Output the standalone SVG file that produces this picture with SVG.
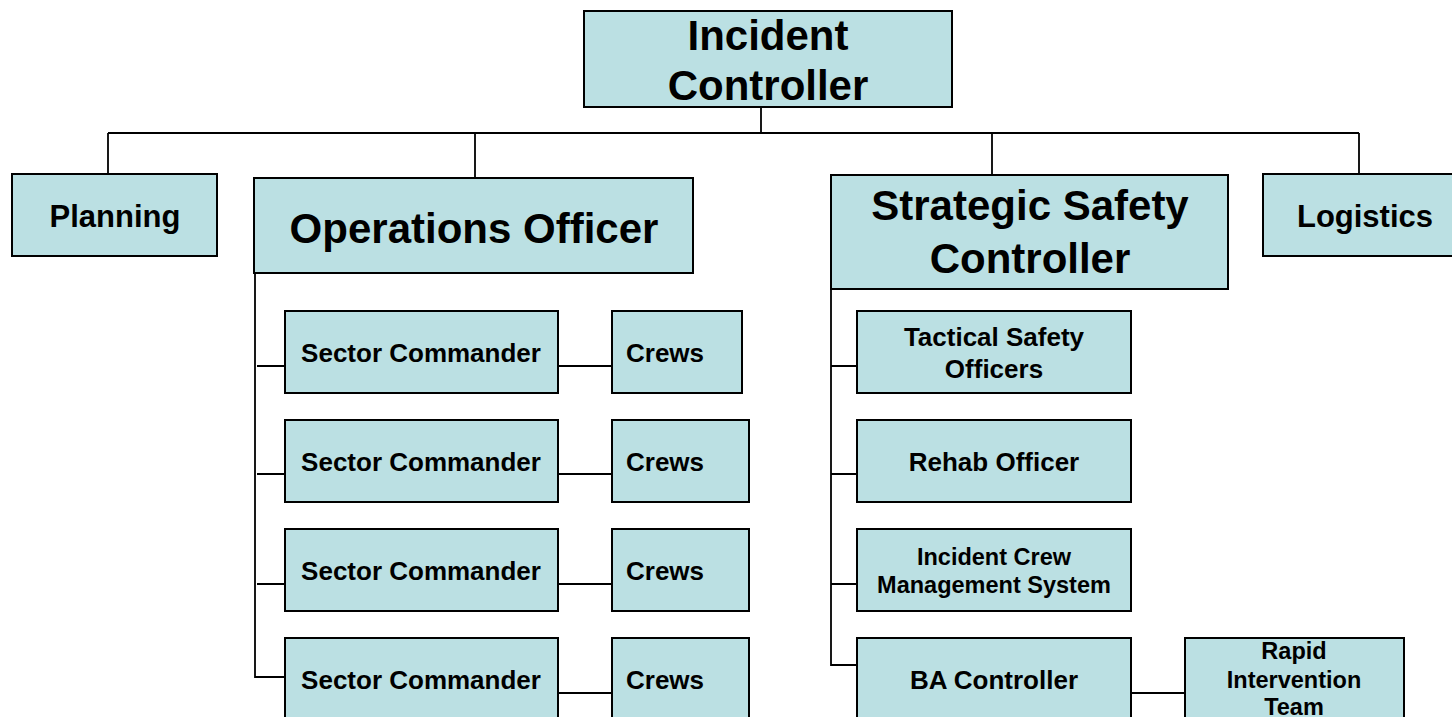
<svg xmlns="http://www.w3.org/2000/svg" width="1452" height="717" viewBox="0 0 1452 717">
<style>
.box{fill:#BBE0E3;stroke:#000;stroke-width:2}
.c{fill:none;stroke:#000;stroke-width:1.8}
text{font-family:"Liberation Sans",Arial,sans-serif;font-weight:bold;fill:#000}
.m{text-anchor:middle}
.xl{font-size:42px}
.l{font-size:31px}
.n{font-size:26px}
.s{font-size:23.5px}
</style>
<rect width="1452" height="717" fill="#fff"/>
<g id="connectors">
<path class="c" d="M761,107V133M108,133H1359M108,133V174M475,133V178M992,133V175M1359,133V174"/>
<path class="c" d="M255,273V677H285M257,366H285M257,474H285M257,584H285"/>
<path class="c" d="M558,366H612M558,474H612M558,584H612M558,693H612"/>
<path class="c" d="M831,257V665H857M831,366H857M831,474H857M831,584H857"/>
<path class="c" d="M1131,693H1185"/>
</g>
<g id="incident-controller"><rect class="box" x="584" y="11" width="368" height="96"/><text class="m xl" x="768" y="50">Incident</text><text class="m xl" x="768" y="100">Controller</text></g>
<g id="planning"><rect class="box" x="12" y="174" width="205" height="82"/><text class="m l" x="115" y="227">Planning</text></g>
<g id="operations-officer"><rect class="box" x="254" y="178" width="439" height="95"/><text class="m xl" x="474" y="243">Operations Officer</text></g>
<g id="strategic-safety-controller"><rect class="box" x="831" y="175" width="397" height="114"/><text class="m xl" x="1030" y="220">Strategic Safety</text><text class="m xl" x="1030" y="273">Controller</text></g>
<g id="logistics"><rect class="box" x="1263" y="174" width="204" height="82"/><text class="m l" x="1365" y="227">Logistics</text></g>
<g id="sector-1"><rect class="box" x="285" y="311" width="273" height="82"/><text class="m n" x="421" y="362">Sector Commander</text></g>
<g id="crews-1"><rect class="box" x="612" y="311" width="130" height="82"/><text class="n" x="626" y="362">Crews</text></g>
<g id="sector-2"><rect class="box" x="285" y="420" width="273" height="82"/><text class="m n" x="421" y="471">Sector Commander</text></g>
<g id="crews-2"><rect class="box" x="612" y="420" width="137" height="82"/><text class="n" x="626" y="471">Crews</text></g>
<g id="sector-3"><rect class="box" x="285" y="529" width="273" height="82"/><text class="m n" x="421" y="580">Sector Commander</text></g>
<g id="crews-3"><rect class="box" x="612" y="529" width="137" height="82"/><text class="n" x="626" y="580">Crews</text></g>
<g id="sector-4"><rect class="box" x="285" y="638" width="273" height="85"/><text class="m n" x="421" y="689">Sector Commander</text></g>
<g id="crews-4"><rect class="box" x="612" y="638" width="137" height="85"/><text class="n" x="626" y="689">Crews</text></g>
<g id="tactical-safety-officers"><rect class="box" x="857" y="311" width="274" height="82"/><text class="m n" x="994" y="346">Tactical Safety</text><text class="m n" x="994" y="378">Officers</text></g>
<g id="rehab-officer"><rect class="box" x="857" y="420" width="274" height="82"/><text class="m n" x="994" y="471">Rehab Officer</text></g>
<g id="incident-crew-management-system"><rect class="box" x="857" y="529" width="274" height="82"/><text class="m s" x="994" y="565">Incident Crew</text><text class="m s" x="994" y="593">Management System</text></g>
<g id="ba-controller"><rect class="box" x="857" y="638" width="274" height="85"/><text class="m n" x="994" y="689">BA Controller</text></g>
<g id="rapid-intervention-team"><rect class="box" x="1185" y="638" width="219" height="85"/><text class="m s" x="1294" y="659">Rapid</text><text class="m s" x="1294" y="688">Intervention</text><text class="m s" x="1294" y="715">Team</text></g>
</svg>
